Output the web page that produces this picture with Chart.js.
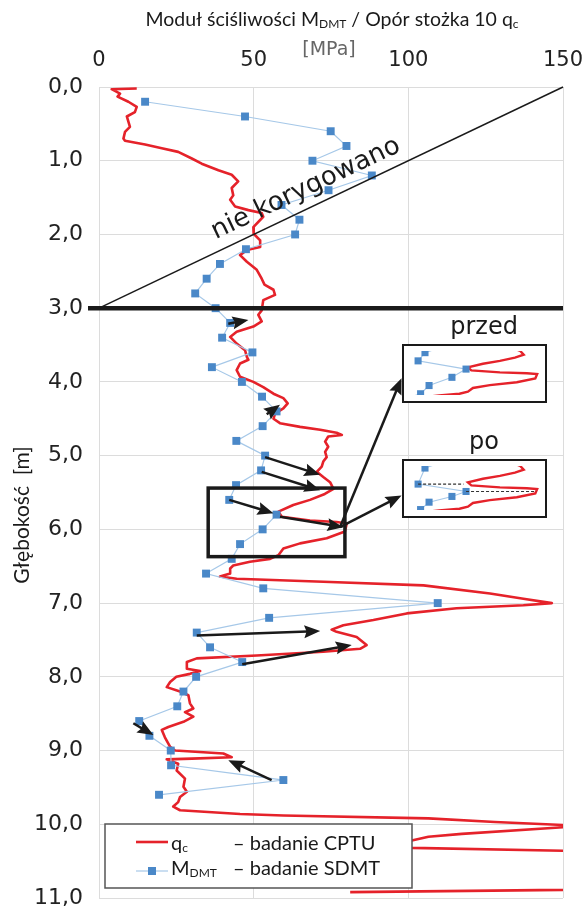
<!DOCTYPE html>
<html><head><meta charset="utf-8">
<script src="https://cdn.jsdelivr.net/npm/chart.js@4.4.1/dist/chart.umd.min.js"></script>
<style>
html,body{margin:0;padding:0;background:#fff;}
#wrap{position:relative;width:584px;height:908px;overflow:hidden;}
#main{position:absolute;left:0;top:0;}
.inset{position:absolute;border:2px solid #1a1a1a;background:#fff;box-sizing:border-box;}
.inset canvas{display:block;}
</style></head><body>
<div id="wrap">
<canvas id="main" width="584" height="908"></canvas>
<div class="inset" id="przedBox"><canvas id="przed"></canvas></div>
<div class="inset" id="poBox"><canvas id="po"></canvas></div>
</div>
<script>
// ---------- DATA ----------
// q_c (CPTU) trace, plotted as 10*q_c [MPa] versus depth [m]
const qcDepth = [0.02,0.03,0.09,0.13,0.20,0.27,0.34,0.40,0.47,0.54,0.61,0.70,0.73,0.78,0.83,0.88,0.97,1.04,1.13,1.19,1.28,1.37,1.47,1.53,1.62,1.67,1.71,1.76,1.90,1.99,2.08,2.17,2.21,2.28,2.37,2.48,2.60,2.68,2.75,2.82,2.89,3.03,3.09,3.18,3.25,3.32,3.39,3.48,3.57,3.66,3.70,3.75,3.84,3.93,4.00,4.07,4.16,4.22,4.29,4.36,4.43,4.50,4.56,4.61,4.65,4.69,4.72,4.74,4.81,4.88,4.95,5.02,5.08,5.15,5.22,5.29,5.36,5.45,5.52,5.60,5.67,5.76,5.83,5.88,5.90,5.92,6.03,6.12,6.19,6.26,6.35,6.40,6.44,6.49,6.53,6.60,6.64,6.67,6.71,6.76,6.87,6.94,7.00,7.03,7.07,7.14,7.23,7.30,7.36,7.39,7.46,7.57,7.62,7.66,7.71,7.75,7.80,7.89,7.92,7.96,8.00,8.07,8.14,8.20,8.25,8.36,8.43,8.48,8.54,8.61,8.68,8.72,8.82,8.95,9.00,9.04,9.09,9.11,9.12,9.18,9.27,9.38,9.49,9.56,9.63,9.70,9.76,9.81,9.86,9.88,9.92,9.97,10.01,10.04,10.13,10.17,10.22,10.26,10.30,10.32,10.36,10.40,10.85,10.89,10.92];
const qcValue = [12.2,4.1,6.8,6.0,9.5,12.2,11.6,9.0,9.5,10.0,8.4,7.9,8.4,14.9,20.3,25.6,30.0,33.2,38.6,42.9,45.0,42.9,43.4,42.4,44.0,48.3,52.6,53.1,49.9,50.0,52.1,52.1,47.8,45.6,47.8,51.0,52.6,53.5,56.4,56.9,53.1,52.6,51.5,52.6,49.9,44.5,42.4,44.5,47.2,47.8,48.3,45.6,44.5,45.6,49.9,53.1,56.4,59.6,61.0,59.6,56.9,56.4,58.5,65.0,71.5,76.8,78.5,74.1,73.1,74.1,73.1,73.6,72.5,72.0,70.4,72.5,74.7,75.8,73.0,68.2,62.8,58.0,59.1,68.2,76.8,80.1,79.5,73.6,65.0,59.6,58.0,55.3,48.8,43.4,42.4,42.4,39.1,44.5,72.5,104.9,126.4,137.2,146.4,137.2,115.6,99.5,88.7,79.0,75.2,76.8,83.3,86.5,84.4,72.5,51.0,31.6,28.4,28.4,32.7,29.4,25.0,23.0,21.9,26.2,28.9,29.4,30.5,27.8,30.5,27.3,22.4,20.3,21.3,23.0,24.6,40.2,42.9,30.0,21.9,25.6,25.1,27.8,27.3,28.4,26.2,25.6,24.0,26.2,45.6,59.6,106.5,128.0,150.0,150.0,117.3,106.5,101.1,96.0,96.0,101.1,150.0,170.0,170.0,150.0,81.2];
// M_DMT (SDMT) points
const mdmtDepth = [0.2,0.4,0.6,0.8,1.0,1.2,1.4,1.6,1.8,2.0,2.2,2.4,2.6,2.8,3.0,3.2,3.4,3.6,3.8,4.0,4.2,4.4,4.6,4.8,5.0,5.2,5.4,5.6,5.8,6.0,6.2,6.4,6.6,6.8,7.0,7.2,7.4,7.6,7.8,8.0,8.2,8.4,8.6,8.8,9.0,9.2,9.4,9.6];
const mdmtValue = [14.9,47.2,74.9,80.0,69.0,88.2,74.2,59.0,64.8,63.4,47.5,39.1,34.8,31.1,37.7,42.4,39.8,49.6,36.5,46.2,52.7,57.4,52.9,44.4,53.7,52.4,44.3,42.1,57.4,52.9,45.6,42.9,34.6,53.1,109.5,55.0,31.6,35.9,46.3,31.4,27.3,25.3,13.0,16.3,23.2,23.3,59.6,19.4];
// "po" (after depth correction) – M_DMT points inside the marked window
const poDepth = [5.2,5.41,5.80,5.98,6.10,6.24,6.42,6.6];
const poValue = [52.4,44.3,42.1,57.4,52.9,45.6,42.9,34.6];
// Tick labels
const xTicks = [0,50,100,150];
const yTicks = [0,1,2,3,4,5,6,7,8,9,10,11];

// ---------- annotation geometry (in data units) ----------
const arrows = [
  [41.8,3.21,48.3,3.16],[54.2,4.44,58.5,4.31],[53.7,5.02,71.5,5.26],[52.6,5.22,71.5,5.47],
  [42.1,5.60,56.4,5.78],[58.5,5.83,79.0,5.97],[31.6,7.44,71.5,7.38],[46.3,7.83,81.7,7.57],
  [11.1,8.63,17.6,8.79],[55.8,9.40,41.8,9.13],[77.9,5.97,97.8,3.95],[77.9,5.97,97.8,5.54]
];
const windowBox = {x0:35.3,x1:79.5,d0:5.44,d1:6.37};
const insetPrzed = {x0:97.8,x1:144.7,d0:3.49,d1:4.28};
const insetPo = {x0:97.8,x1:144.7,d0:5.05,d1:5.84};
const insetRange = {x0:39.2,x1:81.0,d0:5.36,d1:6.43};

const RED='#e5222a', BLUE='#4a88c8', BLUELINE='#a6c8e8', INK='#1a1a1a';
const toPts=(ds,vs)=>ds.map((d,i)=>({x:vs[i],y:d}));

function rich(ctx,x,y,parts,align){
  let w=0;
  parts.forEach(p=>{ctx.font=p.f;p.w=ctx.measureText(p.t).width;w+=p.w;});
  let cx = align==='center'? x-w/2 : (align==='right'? x-w : x);
  parts.forEach(p=>{ctx.font=p.f;ctx.textAlign='left';ctx.fillText(p.t,cx,y+(p.dy||0));cx+=p.w;});
}
function arrow(ctx,x1,y1,x2,y2){
  const a=Math.atan2(y2-y1,x2-x1), L=16, W=6.5;
  ctx.beginPath();ctx.moveTo(x1,y1);ctx.lineTo(x2-Math.cos(a)*L*0.8,y2-Math.sin(a)*L*0.8);ctx.stroke();
  ctx.beginPath();ctx.moveTo(x2,y2);
  ctx.lineTo(x2-Math.cos(a)*L+Math.sin(a)*W,y2-Math.sin(a)*L-Math.cos(a)*W);
  ctx.lineTo(x2-Math.cos(a)*L*0.85,y2-Math.sin(a)*L*0.85);
  ctx.lineTo(x2-Math.cos(a)*L-Math.sin(a)*W,y2-Math.sin(a)*L+Math.cos(a)*W);
  ctx.closePath();ctx.fill();
}
const zeroPad = s=>{s.paddingLeft=0;s.paddingRight=0;s.paddingTop=0;s.paddingBottom=0;};

const annot = {
  id:'annot',
  beforeDraw(chart){const c=chart.ctx;c.save();c.fillStyle='#fff';c.fillRect(0,0,chart.width,chart.height);c.restore();},
  afterDatasetsDraw(chart){
    const {ctx,chartArea:ca}=chart, sx=chart.scales.x, sy=chart.scales.y;
    const X=v=>sx.getPixelForValue(v), Y=d=>sy.getPixelForValue(d);
    ctx.save();
    // cover anything outside the plot on the right side
    ctx.fillStyle='#fff'; ctx.fillRect(ca.right+1,ca.top,chart.width-ca.right-1,ca.bottom-ca.top+2);
    ctx.strokeStyle=INK; ctx.fillStyle=INK; ctx.lineCap='butt';
    // "nie korygowano" reference line
    const ax=X(0), ay=Y(3), bx=X(150), by=Y(0);
    ctx.lineWidth=1.5; ctx.beginPath(); ctx.moveTo(ax,ay); ctx.lineTo(bx,by); ctx.stroke();
    const ang=Math.atan2(by-ay,bx-ax);
    const mx=X(69.5), my=ay+(mx-ax)*Math.tan(ang);
    ctx.save(); ctx.translate(mx+Math.sin(ang)*12, my-Math.cos(ang)*12); ctx.rotate(ang);
    ctx.font='26px "DejaVu Sans"'; ctx.textAlign='center'; ctx.textBaseline='alphabetic';
    ctx.fillText('nie korygowano',0,0); ctx.restore();
    // thick line at 3.0 m
    ctx.lineWidth=4.5; ctx.beginPath(); ctx.moveTo(ca.left-11,Y(3)); ctx.lineTo(ca.right,Y(3)); ctx.stroke();
    // window box
    ctx.lineWidth=3.5; ctx.strokeRect(X(windowBox.x0),Y(windowBox.d0),X(windowBox.x1)-X(windowBox.x0),Y(windowBox.d1)-Y(windowBox.d0));
    // arrows
    ctx.lineWidth=2.5;
    arrows.forEach(a=>arrow(ctx,X(a[0]),Y(a[1]),X(a[2]),Y(a[3])));
    // inset labels
    ctx.font='24px "DejaVu Sans"'; ctx.textAlign='center'; ctx.textBaseline='alphabetic';
    ctx.fillText('przed',(X(insetPrzed.x0)+X(insetPrzed.x1))/2+10,Y(insetPrzed.d0)-10);
    ctx.fillText('po',(X(insetPo.x0)+X(insetPo.x1))/2+10,Y(insetPo.d0)-10);
    // legend
    const lx=ca.left+6, ly=824, lw=307, lh=64;
    ctx.fillStyle='#fff'; ctx.fillRect(lx,ly,lw,lh);
    ctx.strokeStyle='#555'; ctx.lineWidth=1.5; ctx.strokeRect(lx,ly,lw,lh);
    ctx.strokeStyle=RED; ctx.lineWidth=2.6; ctx.beginPath(); ctx.moveTo(lx+31,ly+18); ctx.lineTo(lx+63,ly+18); ctx.stroke();
    ctx.strokeStyle=BLUELINE; ctx.lineWidth=1.2; ctx.beginPath(); ctx.moveTo(lx+31,ly+47); ctx.lineTo(lx+63,ly+47); ctx.stroke();
    ctx.fillStyle=BLUE; ctx.fillRect(lx+43,ly+43,8,8);
    ctx.fillStyle=INK;
    rich(ctx,lx+66,ly+26,[{t:'q',f:'20px Lato'},{t:'c',f:'12px Lato',dy:2}],'left');
    rich(ctx,lx+128,ly+26,[{t:'– badanie CPTU',f:'20px Lato'}],'left');
    rich(ctx,lx+66,ly+51,[{t:'M',f:'20px Lato'},{t:'DMT',f:'12px Lato',dy:2}],'left');
    rich(ctx,lx+128,ly+51,[{t:'– badanie SDMT',f:'20px Lato'}],'left');
    // titles
    ctx.fillStyle='#1a1a1a';
    rich(ctx,332,26,[{t:'Moduł ściśliwości M',f:'19.5px Lato'},{t:'DMT',f:'12px Lato',dy:2},{t:' / Opór stożka 10 q',f:'19.5px Lato'},{t:'c',f:'12px Lato',dy:2}],'center');
    ctx.fillStyle='#666'; ctx.font='19px "DejaVu Sans"'; ctx.textAlign='center';
    ctx.fillText('[MPa]',329,55);
    ctx.save(); ctx.translate(29,515); ctx.rotate(-Math.PI/2); ctx.fillStyle='#1a1a1a';
    ctx.font='21px Lato'; ctx.textAlign='center'; ctx.fillText('Głębokość  [m]',0,0); ctx.restore();
    ctx.restore();
  }
};

const main = new Chart(document.getElementById('main'),{
  type:'scatter',
  data:{datasets:[
    {label:'MDMT',data:toPts(mdmtDepth,mdmtValue),showLine:true,borderColor:BLUELINE,borderWidth:1.2,pointStyle:'rect',pointRadius:5.6,pointBackgroundColor:BLUE,pointBorderColor:BLUE,pointBorderWidth:0,order:1},
    {label:'qc',data:toPts(qcDepth,qcValue),showLine:true,borderColor:RED,borderWidth:2.6,pointRadius:0,order:2,clip:{left:0,top:0,right:0,bottom:0},borderJoinStyle:'round'}
  ]},
  options:{
    responsive:false,animation:false,devicePixelRatio:1,
    layout:{padding:{left:0,top:0,right:21,bottom:10}},
    plugins:{legend:{display:false},tooltip:{enabled:false}},
    scales:{
      x:{type:'linear',position:'top',min:0,max:150,
        afterBuildTicks:s=>{s.ticks=xTicks.map(v=>({value:v}));},
        ticks:{font:{family:'DejaVu Sans',size:21},color:'#222',padding:14,maxRotation:0},
        grid:{color:'#dcdcdc',drawTicks:false},border:{color:'#dcdcdc'},
        afterFit:s=>{s.height=87;zeroPad(s);}},
      y:{type:'linear',reverse:true,min:0,max:11,
        afterBuildTicks:s=>{s.ticks=yTicks.map(v=>({value:v}));},
        ticks:{font:{family:'DejaVu Sans',size:22},color:'#222',padding:16,callback:v=>v.toFixed(1).replace('.',',')},
        grid:{color:'#dcdcdc',drawTicks:false},border:{color:'#dcdcdc'},
        afterFit:s=>{s.width=99;zeroPad(s);}}
    }
  },
  plugins:[annot]
});

// ---------- insets ----------
function makeInset(boxId,canvasId,rect,mPts,dashed){
  const sx=main.scales.x, sy=main.scales.y;
  const L=sx.getPixelForValue(rect.x0), R=sx.getPixelForValue(rect.x1);
  const T=sy.getPixelForValue(rect.d0), B=sy.getPixelForValue(rect.d1);
  const box=document.getElementById(boxId);
  box.style.left=L+'px'; box.style.top=T+'px'; box.style.width=(R-L)+'px'; box.style.height=(B-T)+'px';
  const cv=document.getElementById(canvasId);
  cv.width=Math.round(R-L-4); cv.height=Math.round(B-T-4);
  const dashPlugin={id:'dash',afterDatasetsDraw(ch){
    if(!dashed) return;
    const c=ch.ctx, X=v=>ch.scales.x.getPixelForValue(v), Y=d=>ch.scales.y.getPixelForValue(d);
    c.save(); c.strokeStyle='#333'; c.lineWidth=1.2; c.setLineDash([3,2]);
    dashed.forEach(s=>{c.beginPath();c.moveTo(X(s[0]),Y(s[1]));c.lineTo(X(s[2]),Y(s[1]));c.stroke();});
    c.restore();
  }};
  return new Chart(cv,{
    type:'scatter',
    data:{datasets:[
      {data:mPts,showLine:true,borderColor:BLUELINE,borderWidth:1.1,pointStyle:'rect',pointRadius:5,pointBackgroundColor:BLUE,pointBorderWidth:0,order:1},
      {data:toPts(qcDepth,qcValue),showLine:true,borderColor:RED,borderWidth:2.4,pointRadius:0,order:2}
    ]},
    options:{responsive:false,animation:false,devicePixelRatio:1,layout:{padding:0},
      plugins:{legend:{display:false},tooltip:{enabled:false}},
      scales:{x:{display:false,min:insetRange.x0,max:insetRange.x1},
              y:{display:false,reverse:true,min:insetRange.d0,max:insetRange.d1}}},
    plugins:[dashPlugin]
  });
}
makeInset('przedBox','przed',insetPrzed,toPts(mdmtDepth,mdmtValue),null);
makeInset('poBox','po',insetPo,toPts(poDepth,poValue),[[42.1,5.80,56.6],[57.4,5.98,79.8]]);
</script>
</body></html>
